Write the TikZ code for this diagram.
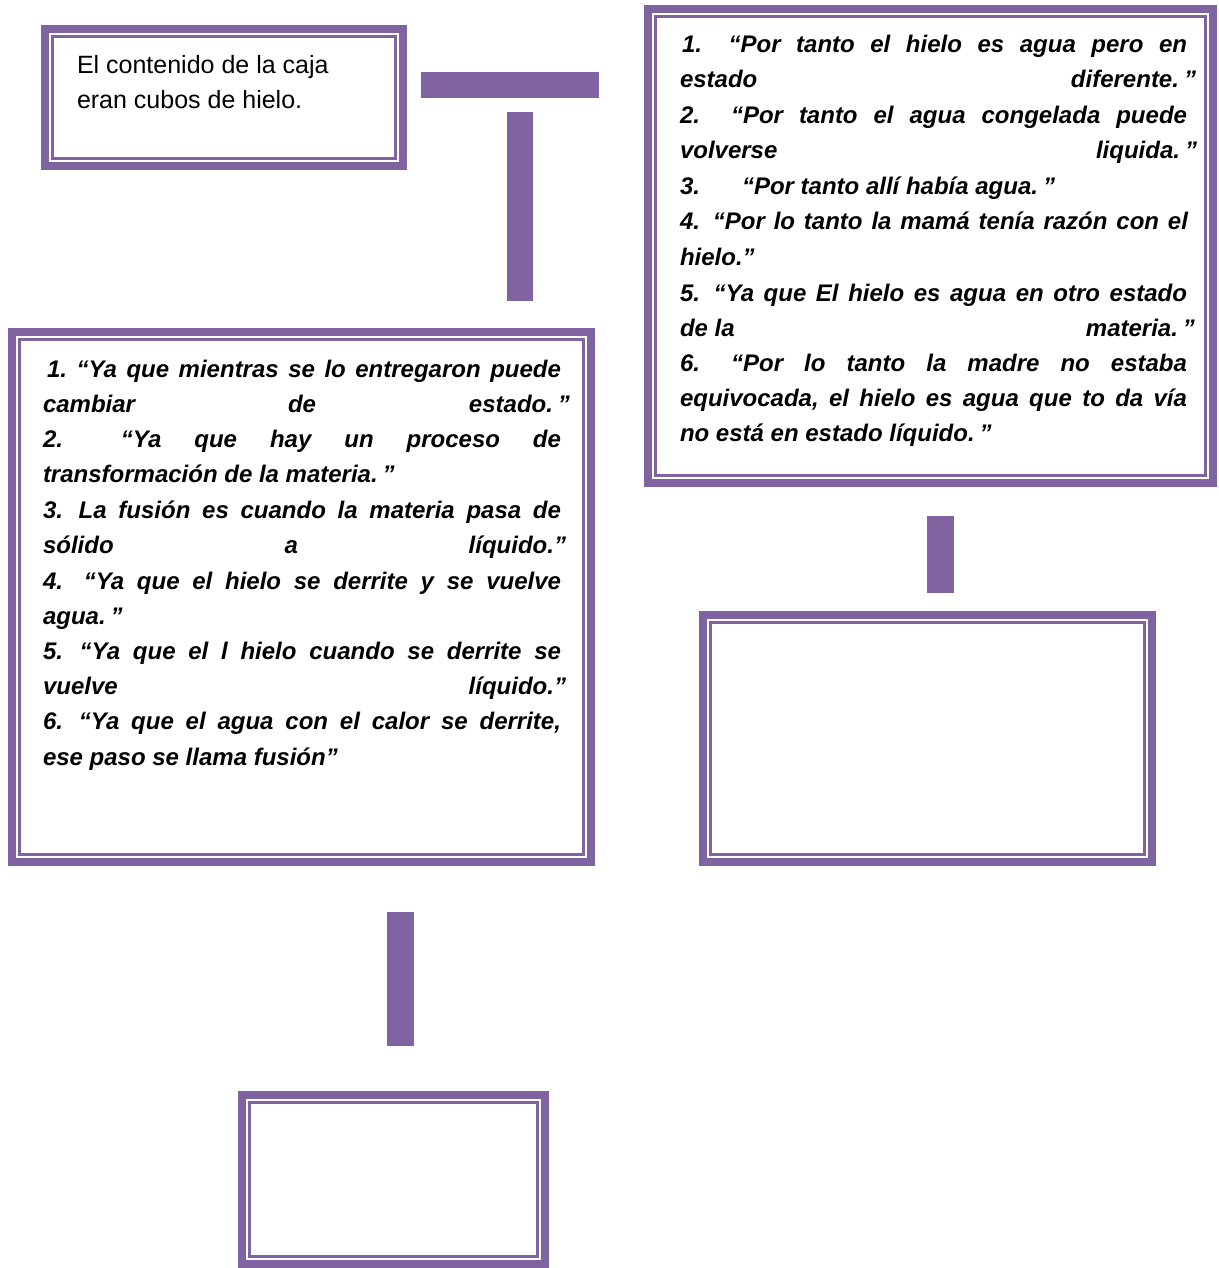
\documentclass[tikz,border=0pt]{standalone}
\usepackage{fontspec}
\setmainfont{Liberation Sans}
\definecolor{purp}{RGB}{128,100,162}
\frenchspacing
\tikzset{
  frameouter/.style={draw=purp, line width=8pt, fill=white, rectangle, inner sep=0pt, outer sep=0pt},
  frameinner/.style={draw=purp, line width=3pt},
  barnode/.style={fill=purp, rectangle, inner sep=0pt, outer sep=0pt},
  ln/.style={anchor=base west, inner sep=0pt, outer sep=0pt,
    font=\bfseries\itshape\fontsize{24}{24}\selectfont},
  plain/.style={anchor=base west, inner sep=0pt, outer sep=0pt,
    font=\fontsize{25}{25}\selectfont}
}
% framed box: name, left, top, right, bottom (outer edges, in px)
\newcommand\trifr[5]{%
  \node[frameouter, minimum width={#4-#2-8}, minimum height={#5-#3-8}]
    (#1) at ({(#2+#4)/2},{(#3+#5)/2}) {};
  \draw[frameinner] ([shift={(7.5,7.5)}]#1.north west) rectangle ([shift={(-7.5,-7.5)}]#1.south east);
}
% solid bar: name, left, top, right, bottom
\newcommand\barrect[5]{%
  \node[barnode, minimum width={#4-#2}, minimum height={#5-#3}]
    (#1) at ({(#2+#4)/2},{(#3+#5)/2}) {};
}
% justified line: name, x, baseline, width, text
\newcommand\jl[5]{\node[ln] (#1) at (#2,#3) {\makebox[#4pt][s]{#5}};}
% ragged line: name, x, baseline, text
\newcommand\rl[4]{\node[ln] (#1) at (#2,#3) {#4};}
\begin{document}
\begin{tikzpicture}[x=1pt, y=-1pt]
\useasboundingbox (0,0) rectangle (1218,1268);

% frames
\trifr{boxa}{41}{25}{407}{170}
\trifr{boxb}{644}{5}{1217}{487}
\trifr{boxc}{8}{328}{595}{866}
\trifr{boxd}{699}{611}{1156}{866}
\trifr{boxe}{238}{1091}{549}{1268}

% bars between the frames
\barrect{barh}{421}{72}{599}{98}
\barrect{barv}{507}{112}{533}{301}
\barrect{barr}{927}{516}{954}{593}
\barrect{barl}{387}{912}{414}{1046}

% first frame
\node[plain] (ta1) at (77,74) {El contenido de la caja};
\node[plain] (ta2) at (77,109) {eran cubos de hielo.};

% right frame
\jl{tb1}{682}{53}{505}{1.\hspace{11pt} “Por tanto el hielo es agua pero en}
\jl{tb2}{680}{88}{516}{estado\hfill diferente.\hspace{5pt}”}
\jl{tb3}{680}{124}{507}{2.\hspace{15pt} “Por tanto el agua congelada puede}
\jl{tb4}{680}{159}{517}{volverse\hfill liquida.\hspace{5pt}”}
\rl{tb5}{680}{194}{3.\hspace{42pt}“Por tanto allí había agua.\hspace{5pt}”}
\jl{tb6}{680}{229}{508}{4.\hspace{4pt} “Por lo tanto la mamá tenía razón con el}
\rl{tb7}{680}{265}{hielo.”}
\jl{tb8}{680}{301}{507}{5.\hspace{4pt} “Ya que El hielo es agua en otro estado}
\jl{tb9}{680}{336}{515}{de la\hfill materia.\hspace{5pt}”}
\jl{tb10}{680}{371}{507}{6.\hspace{10pt} “Por lo tanto la madre no estaba}
\jl{tb11}{680}{406}{507}{equivocada, el hielo es agua que to da vía}
\rl{tb12}{680}{441}{no está en estado líquido.\hspace{5pt}”}

% left frame
\jl{tc1}{47}{377}{514}{1. “Ya que mientras se lo entregaron puede}
\jl{tc2}{43}{412}{527}{cambiar\hfill de\hfill estado.\hspace{5pt}”}
\jl{tc3}{43}{447}{518}{2.\hspace{25pt} “Ya que hay un proceso de}
\rl{tc4}{43}{482}{transformación de la materia.\hspace{5pt}”}
\jl{tc5}{43}{518}{518}{3.\hspace{4pt} La fusión es cuando la materia pasa de}
\jl{tc6}{43}{553}{523}{sólido\hfill a\hfill líquido.”}
\jl{tc7}{43}{589}{518}{4.\hspace{8pt} “Ya que el hielo se derrite y se vuelve}
\rl{tc8}{43}{624}{agua.\hspace{5pt}”}
\jl{tc9}{43}{659}{518}{5.\hspace{4pt} “Ya que el l hielo cuando se derrite se}
\jl{tc10}{43}{694}{523}{vuelve\hfill líquido.”}
\jl{tc11}{43}{729}{518}{6.\hspace{4pt} “Ya que el agua con el calor se derrite,}
\rl{tc12}{43}{765}{ese paso se llama fusión”}
\end{tikzpicture}
\end{document}
